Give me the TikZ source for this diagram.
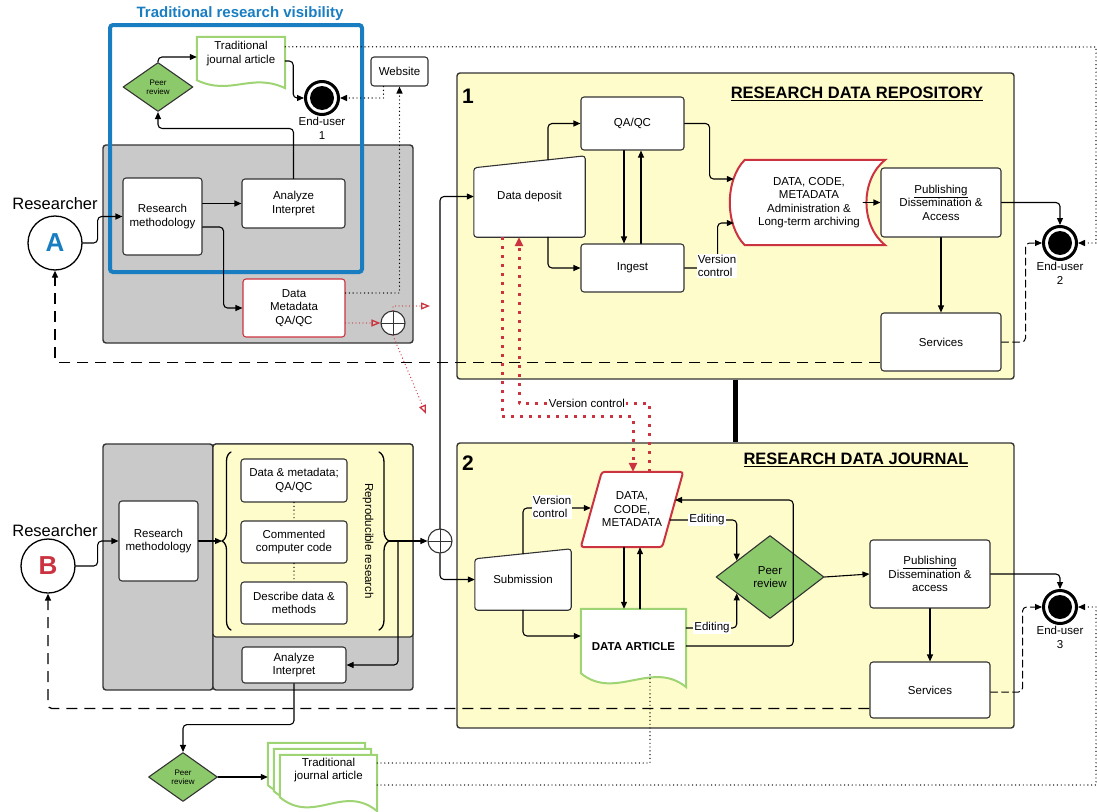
\documentclass[tikz,border=0pt]{standalone}
\usepackage{fontspec}
\setmainfont{Liberation Sans}
\usepackage{tikz}
\usetikzlibrary{arrows.meta,calc,positioning,shapes.geometric,decorations.pathreplacing}
\definecolor{cccccc}{rgb}{0.79,0.79,0.79}
\definecolor{ffffcc}{rgb}{1,0.99,0.80}
\definecolor{qqwwbb}{rgb}{0.10,0.49,0.76}
\definecolor{ccqqzz}{rgb}{0.80,0.20,0.25}
\definecolor{aaddqq}{rgb}{0.55,0.79,0.42}
\definecolor{aaddww}{rgb}{0.62,0.83,0.45}
\definecolor{uququq}{rgb}{0.2,0.2,0.2}
\pgfdeclarelayer{bg}
\pgfdeclarelayer{shp}
\pgfsetlayers{bg,shp,main}
\newcommand{\maninput}[2]{\draw[line width=1.1pt,draw=uququq,fill=white,rounded corners=3pt] (#1.south west) -- ($(#1.north west)+(0,#2)$) -- (#1.north east) -- (#1.south east) -- cycle;}
\newcommand{\slantbox}[2]{\draw[line width=2pt,draw=ccqqzz,fill=white,rounded corners=3pt] (#1.south west) -- ($(#1.north west)+(#2,0)$) -- (#1.north east) -- ($(#1.south east)+(-#2,0)$) -- cycle;}
\newcommand{\docpaper}[5]{\draw[line width=2pt,draw=#3,fill=white] ($(#1.north west)+(-#2,-#2)$) -- ($(#1.north east)+(-#2,-#2)$) -- ($(#1.south east)+(-#2,#5+#4-#2)$) .. controls ($(#1.south east)+(-34-#2,#5-#4-#2)$) and ($(#1.south west)+(34-#2,#5+2*#4-#2)$) .. ($(#1.south west)+(-#2,#5-#2)$) -- cycle;}
\newcommand{\storeshape}[1]{\draw[line width=2pt,draw=ccqqzz,fill=white] ($(#1.north west)+(12,0)$) -- (#1.north east) .. controls ($(#1.north east)+(-25,20)$) and ($(#1.south east)+(-25,-20)$) .. (#1.south east) -- ($(#1.south west)+(12,0)$) .. controls ($(#1.south west)+(-8,-20)$) and ($(#1.north west)+(-8,20)$) .. ($(#1.north west)+(12,0)$) -- cycle;}

\begin{document}
\begin{tikzpicture}[line cap=round,line join=round,x=1pt,y=-1pt,
  >={Triangle[length=7pt,width=6pt]},
  every node/.style={font=\fontsize{11.5}{13.5}\selectfont,inner sep=1pt},
  box/.style={draw=uququq,fill=white,rounded corners=3pt,line width=1.1pt,align=center,inner sep=2pt},
  redbox/.style={box,draw=ccqqzz},
  blank/.style={align=center,inner sep=0pt},
  panel/.style={draw=uququq,fill=ffffcc,rounded corners=3pt,line width=1.4pt,inner sep=0pt},
  greybox/.style={draw=uququq,fill=cccccc,rounded corners=3pt,line width=1.4pt},
  peer/.style={diamond,draw=uququq,fill=aaddqq,line width=1.1pt,align=center,inner sep=0pt},
  enduser/.style={circle,draw=black,line width=3pt,fill=white,minimum size=33pt,inner sep=0pt,path picture={\fill[black] (path picture bounding box.center) circle (12pt);}},
  actor/.style={circle,draw=black,line width=1.3pt,fill=white,minimum size=54pt,inner sep=0pt,font=\fontsize{26}{26}\selectfont\bfseries},
  xorgate/.style={circle,draw=uququq,line width=1.1pt,fill=white,minimum size=24pt,inner sep=0pt,path picture={\draw[line width=1pt] (path picture bounding box.north) -- (path picture bounding box.south) (path picture bounding box.west) -- (path picture bounding box.east);}},
  tag/.style={fill=white,inner sep=1pt,align=left},
  conn/.style={line width=1.1pt,rounded corners=4pt},
  dashline/.style={line width=1.3pt,dash pattern=on 11pt off 7pt,line cap=butt},
  dotline/.style={line width=1.4pt,dash pattern=on 0pt off 3.8pt},
  reddots/.style={draw=ccqqzz,line width=3pt,line cap=butt,dash pattern=on 3pt off 6pt,-{Triangle[length=9pt,width=8pt]}},
  redhint/.style={draw=ccqqzz,line width=1.3pt,dash pattern=on 0pt off 3.5pt,-{Triangle[open,length=9pt,width=7pt]}},
  heading/.style={font=\fontsize{16.5}{16.5}\selectfont\bfseries},
  bignum/.style={font=\fontsize{21}{21}\selectfont\bfseries},
  who/.style={font=\fontsize{16.5}{16.5}\selectfont}]

\useasboundingbox (0,0) rectangle (1097,811);

\begin{pgfonlayer}{bg}
\draw[greybox] (103,145) rectangle (413,343);
\draw[greybox] (103,444) rectangle (213,690);
\draw[greybox] (213,444) rectangle (413,690);
\draw[draw=uququq,fill=ffffcc,line width=1.2pt,rounded corners=3pt] (213,444) rectangle (413,637);
\draw[draw=qqwwbb,line width=4pt,rounded corners=3pt] (110,25) rectangle (362,272);
\node[panel,minimum width=557pt,minimum height=306pt] (repo) at (735.5,226) {};
\node[panel,minimum width=557pt,minimum height=285pt] (journ) at (735.5,585.5) {};
\end{pgfonlayer}

\node[font=\fontsize{15}{15}\selectfont\bfseries,text=qqwwbb] (tvis) at (240,14) {Traditional research visibility};
\node[peer,minimum width=70pt,minimum height=49pt,font=\fontsize{8}{9}\selectfont] (prA) at (158,87) {Peer\\review};
\node[blank,minimum width=88pt,minimum height=33pt] (tjaA) at (241,53.5) {Traditional\\journal article};
\node[enduser] (eu1) at (322,98) {};
\node[blank,below=1pt of eu1] (eu1t) {End-user\\1};
\node[box,minimum width=57pt,minimum height=29pt] (web) at (399.5,71.5) {Website};
\node[who] (resA) at (55,204) {Researcher};
\node[actor,text=qqwwbb] (actA) at (55,243) {A};
\node[box,minimum width=79pt,minimum height=77pt] (rmA) at (162.5,216.5) {Research\\methodology};
\node[box,minimum width=103pt,minimum height=49pt] (anA) at (293.5,203.5) {Analyze\\Interpret};
\node[redbox,minimum width=102pt,minimum height=58pt] (dmA) at (294,308) {Data\\Metadata\\QA/QC};
\node[xorgate] (cpA) at (393,323) {};
\coordinate (hintR) at (430,306);
\coordinate (hintJ) at (426,414);

\node[bignum] (no1) at (468,96) {1};
\node[heading] (hd1) at (857,94) {\underline{RESEARCH DATA REPOSITORY}};
\node[blank,minimum width=111pt,minimum height=81pt] (dep) at (529.5,196.5) {Data deposit};
\node[box,minimum width=103pt,minimum height=53pt] (qaqc) at (632.5,123.5) {QA/QC};
\node[box,minimum width=103pt,minimum height=48pt] (ing) at (632.5,268) {Ingest};
\node[blank,minimum width=152pt,minimum height=85pt] (store) at (809,202.5) {DATA, CODE,\\METADATA\\Administration \&\\Long-term archiving};
\node[box,minimum width=120pt,minimum height=69pt] (pub1) at (941,202.5) {\underline{Publishing}\\Dissemination \&\\Access};
\node[box,minimum width=120pt,minimum height=58pt] (srv1) at (941,342) {Services};
\node[enduser] (eu2) at (1060,243) {};
\node[blank,below=1pt of eu2] (eu2t) {End-user\\2};

\node[bignum] (no2) at (468,463) {2};
\node[heading] (hd2) at (856,460) {\underline{RESEARCH DATA JOURNAL}};
\node[blank,minimum width=102pt,minimum height=75pt] (dcm) at (632,509.5) {DATA,\\CODE,\\METADATA};
\node[blank,minimum width=96pt,minimum height=61pt] (subm) at (523,579.5) {Submission};
\node[blank,minimum width=105pt,minimum height=76pt,font=\fontsize{11.5}{13.5}\selectfont\bfseries] (dart) at (633.5,647) {DATA ARTICLE};
\node[peer,minimum width=108pt,minimum height=83pt] (prJ) at (770,577) {Peer\\review};
\node[box,minimum width=120pt,minimum height=68pt] (pub2) at (930,574) {\underline{Publishing}\\Dissemination \&\\access};
\node[box,minimum width=120pt,minimum height=56pt] (srv2) at (930,690) {Services};
\node[enduser] (eu3) at (1060,607) {};
\node[blank,below=1pt of eu3] (eu3t) {End-user\\3};

\node[who] (resB) at (55,531) {Researcher};
\node[actor,text=ccqqzz] (actB) at (48,566) {B};
\node[box,minimum width=79pt,minimum height=80pt] (rmB) at (158.5,541) {Research\\methodology};
\node[box,minimum width=106pt,minimum height=43pt] (dmq) at (294,480.5) {Data \& metadata;\\QA/QC};
\node[box,minimum width=106pt,minimum height=42pt] (ccode) at (294,542) {Commented\\computer code};
\node[box,minimum width=106pt,minimum height=42pt] (ddm) at (294,603) {Describe data \&\\methods};
\node[rotate=-90] (repr) at (368,541) {Reproducible research};
\coordinate (lbr) at (222,541);
\coordinate (rbr) at (389,541);
\node[box,minimum width=104pt,minimum height=36pt] (anB) at (294,665) {Analyze\\Interpret};
\node[peer,minimum width=69pt,minimum height=49pt,font=\fontsize{8}{9}\selectfont] (prB) at (183,777) {Peer\\review};
\node[blank,minimum width=97pt,minimum height=30pt] (tjaB) at (328.5,770) {Traditional\\journal article};
\node[xorgate] (cpB) at (440,541) {};

\begin{pgfonlayer}{shp}
\docpaper{tjaA}{0}{aaddww}{8}{10}
\maninput{dep}{12}
\storeshape{store}
\slantbox{dcm}{21}
\maninput{subm}{10}
\docpaper{dart}{0}{aaddww}{14}{-12}
\docpaper{tjaB}{12}{aaddww}{14}{12}
\docpaper{tjaB}{6}{aaddww}{14}{12}
\docpaper{tjaB}{0}{aaddww}{14}{12}
\end{pgfonlayer}

\draw[conn,->] (actA.east) -- ++(15,0) |- (rmA.west);
\draw[conn,->] (rmA.east |- anA.west) -- (anA.west);
\draw[conn,->] ($(rmA.east)+(0,10.5)$) -- ++(21,0) |- (dmA.west);
\draw[conn,->] (anA.north) -- ++(0,-50) -| (prA.south);
\draw[conn,->] (prA.north) |- ($(tjaA.west)+(0,3.5)$);
\draw[conn,->] ($(tjaA.east)+(0,7.5)$) -- ++(8,0) |- (eu1.west);
\draw[dotline,->] ($(web.south)+(-16,0)$) |- (eu1.east);
\draw[dotline,->] ($(dmA.east)+(0,-15)$) -| (web.south);
\draw[redhint] ($(dmA.east)+(0,15)$) -- (cpA.west);
\draw[redhint] (cpA.north) |- (hintR);
\draw[redhint] (cpA.south) -- (hintJ);
\draw[dotline,->] ($(tjaA.north east)+(0,10)$) -- (1096,47) |- (eu2.east);

\draw[conn,->] (cpB.north) |- (dep.west);
\draw[conn,->] (cpB.south) |- (subm.west);
\draw[conn,->] ($(dep.north)+(18.5,4)$) |- (qaqc.west);
\draw[conn,->] ($(dep.south)+(18.5,0)$) |- (ing.west);
\draw[conn,->] ($(qaqc.south)+(-8.5,0)$) -- ($(ing.north)+(-8.5,0)$);
\draw[conn,->] ($(ing.north)+(8.5,0)$) -- ($(qaqc.south)+(8.5,0)$);
\draw[conn,->] (qaqc.east) -- ++(25,0) |- ($(store.west)+(1,-23.5)$);
\draw[conn,->] (ing.east) -- ++(33,0) |- ($(store.west)+(1,20.5)$);
\draw[conn,->] ($(store.east)+(-22,0)$) -- (pub1.west);
\draw[conn,->] (pub1.east) -| (eu2.north);
\draw[conn,->] (pub1.south) -- (srv1.north);
\draw[conn,dash pattern=on 7pt off 4pt,line width=1pt,->] (srv1.east) -- ++(24,0) |- (eu2.west);
\draw[conn,dashline,->] ($(srv1.south west)+(0,-9)$) -| (actA.south);
\draw[line width=5pt,line cap=butt] (repo.south) -- (journ.north);

\draw[conn,->] ($(subm.north)+(0,5)$) |- ($(dcm.west)+(10,-1.5)$);
\draw[conn,->] (subm.south) |- ($(dart.west)+(0,-11)$);
\draw[conn,->] ($(dcm.south)+(-8,0)$) -- ($(dart.north)+(-9.5,0)$);
\draw[conn,->] ($(dart.north)+(6.5,0)$) -- ($(dcm.south)+(8,0)$);
\draw[conn,->] ($(dcm.center)+(38,10.5)$) -| ($(prJ.west)!0.39!(prJ.north)$);
\draw[conn,->] ($(dart.east)+(0,-19)$) -| ($(prJ.west)!0.39!(prJ.south)$);
\draw[conn,->] ($(dart.east)+(0,-1)$) -- ++(107,0) |- ($(dcm.center)+(43,-9.5)$);
\draw[conn,->] (prJ.east) -- (pub2.west);
\draw[conn,->] (pub2.east) -| (eu3.north);
\draw[conn,->] (pub2.south) -- (srv2.north);
\draw[conn,dash pattern=on 7pt off 4pt,line width=1pt,->] ($(srv2.east)+(0,2)$) -- ++(32,0) |- (eu3.west);
\draw[conn,dashline,->] ($(srv2.south west)+(0,-10)$) -| (actB.south);
\draw[reddots] ($(dep.south)+(-27.5,0)$) |- ($(dcm.north)+(1,-55)$) -- ($(dcm.north)+(1,0)$);
\draw[reddots] ($(dcm.north)+(17,0)$) |- ($(dep.south)+(-10.5,166)$) -- ($(dep.south)+(-10.5,0)$);

\draw[conn,->] (actB.east) -- ++(22,0) |- (rmB.west);
\draw[conn,->] (rmB.east) -- (lbr);
\draw[line width=1.3pt,decorate,decoration={brace,amplitude=9pt}] (231,630) -- (231,452);
\draw[line width=1.3pt,decorate,decoration={brace,amplitude=10pt}] (379,452) -- (379,630);
\draw[conn,->] (rbr) -- (cpB.west);
\draw[conn,->] ($(rbr)+(9,0)$) |- (anB.east);
\draw[conn,->] (anB.south) -- ++(0,41) -| (prB.north);
\draw[conn,->] (prB.east) -- ($(prB.east -| tjaB.west)+(-12,0)$);
\draw[dotline] ($(tjaB.east)+(0,-7)$) -| ($(dart.south)+(16.5,-12)$);
\draw[dotline,->] ($(tjaB.east)+(0,15)$) -- (1096,785) |- (eu3.east);
\draw[dotline] (dmq.south) -- (ccode.north);
\draw[dotline] (ccode.south) -- (ddm.north);

\node[tag] (vc1) at (717,266) {Version\\control};
\node[tag] (vc2) at (552,507) {Version\\control};
\node[tag] (ed1) at (707,520) {Editing};
\node[tag] (ed2) at (712,628) {Editing};
\node[tag] (vc3) at (587,403) {Version control};

\end{tikzpicture}
\end{document}
